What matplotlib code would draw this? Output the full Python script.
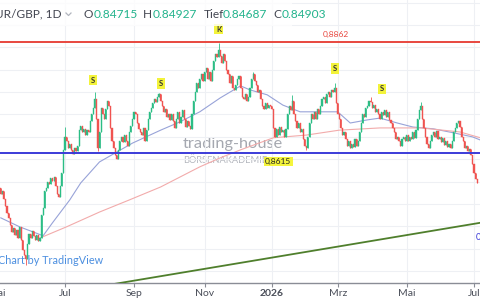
import numpy as np
import pandas as pd
import matplotlib
matplotlib.use("Agg")
import matplotlib.pyplot as plt
from matplotlib.lines import Line2D
from matplotlib.patches import Rectangle

plt.rcParams['font.family'] = ['Lato', 'DejaVu Sans']

# daily closes EUR/GBP (one value per trading day from 2025-05-05)
first_open = 0.8535
closes = [
    0.8522, 0.8530, 0.8512, 0.8495, 0.8480, 0.8468, 0.8452, 0.8438, 0.8447, 0.8430,
    0.8442, 0.8425, 0.8448, 0.8420, 0.8398, 0.8385, 0.8378, 0.8410, 0.8432, 0.8425,
    0.8440, 0.8428, 0.8420, 0.8430, 0.8418, 0.8425, 0.8475, 0.8490, 0.8530, 0.8535,
    0.8550, 0.8545, 0.8558, 0.8552, 0.8560, 0.8540, 0.8522, 0.8515, 0.8540, 0.8570,
    0.8620, 0.8650, 0.8640, 0.8625, 0.8635, 0.8620, 0.8612, 0.8625, 0.8618, 0.8630,
    0.8665, 0.8675, 0.8660, 0.8668, 0.8655, 0.8665, 0.8660, 0.8685, 0.8700, 0.8715,
    0.8735, 0.8690, 0.8625, 0.8660, 0.8715, 0.8700, 0.8690, 0.8712, 0.8730, 0.8720,
    0.8670, 0.8640, 0.8625, 0.8610, 0.8600, 0.8620, 0.8640, 0.8650, 0.8638, 0.8655,
    0.8640, 0.8630, 0.8660, 0.8675, 0.8690, 0.8705, 0.8700, 0.8680, 0.8668, 0.8660,
    0.8655, 0.8670, 0.8640, 0.8665, 0.8690, 0.8705, 0.8715, 0.8725, 0.8735, 0.8728,
    0.8740, 0.8745, 0.8730, 0.8720, 0.8705, 0.8712, 0.8695, 0.8702, 0.8688, 0.8700,
    0.8685, 0.8670, 0.8690, 0.8705, 0.8680, 0.8695, 0.8710, 0.8690, 0.8672, 0.8685,
    0.8675, 0.8668, 0.8700, 0.8730, 0.8750, 0.8770, 0.8760, 0.8780, 0.8790, 0.8775,
    0.8795, 0.8805, 0.8780, 0.8795, 0.8775, 0.8800, 0.8820, 0.8835, 0.8828, 0.8845,
    0.8830, 0.8815, 0.8835, 0.8820, 0.8800, 0.8790, 0.8770, 0.8785, 0.8760, 0.8755,
    0.8765, 0.8780, 0.8785, 0.8760, 0.8740, 0.8735, 0.8745, 0.8730, 0.8738, 0.8760,
    0.8780, 0.8790, 0.8775, 0.8765, 0.8750, 0.8755, 0.8735, 0.8720, 0.8712, 0.8725,
    0.8715, 0.8722, 0.8718, 0.8712, 0.8670, 0.8650, 0.8668, 0.8655, 0.8672, 0.8660,
    0.8665, 0.8650, 0.8668, 0.8700, 0.8720, 0.8710, 0.8730, 0.8700, 0.8685, 0.8670,
    0.8680, 0.8660, 0.8668, 0.8645, 0.8630, 0.8625, 0.8650, 0.8680, 0.8700, 0.8690,
    0.8705, 0.8690, 0.8712, 0.8700, 0.8720, 0.8735, 0.8740, 0.8725, 0.8745, 0.8750,
    0.8740, 0.8755, 0.8750, 0.8760, 0.8725, 0.8700, 0.8690, 0.8670, 0.8655, 0.8660,
    0.8645, 0.8630, 0.8640, 0.8625, 0.8635, 0.8628, 0.8645, 0.8630, 0.8640, 0.8660,
    0.8680, 0.8700, 0.8695, 0.8715, 0.8720, 0.8730, 0.8728, 0.8715, 0.8722, 0.8705,
    0.8712, 0.8700, 0.8690, 0.8705, 0.8698, 0.8710, 0.8695, 0.8705, 0.8688, 0.8680,
    0.8670, 0.8660, 0.8645, 0.8650, 0.8640, 0.8630, 0.8645, 0.8650, 0.8640, 0.8655,
    0.8640, 0.8650, 0.8645, 0.8660, 0.8648, 0.8665, 0.8690, 0.8710, 0.8720, 0.8690,
    0.8670, 0.8650, 0.8635, 0.8625, 0.8640, 0.8655, 0.8660, 0.8650, 0.8662, 0.8645,
    0.8650, 0.8638, 0.8648, 0.8632, 0.8640, 0.8628, 0.8635, 0.8625, 0.8640, 0.8660,
    0.8670, 0.8680, 0.8685, 0.8672, 0.8650, 0.8640, 0.8625, 0.8630, 0.8618, 0.8622,
    0.8610, 0.8590, 0.8570, 0.8555, 0.8548,
]
# notable wick extremes (candle number -> price)
wick_highs = {41: 0.8672, 60: 0.8750, 101: 0.8748, 139: 0.8860, 161: 0.8795,
              186: 0.8744, 213: 0.8770, 236: 0.8739, 268: 0.8728, 293: 0.8681}
wick_lows = {16: 0.8364, 62: 0.8618, 74: 0.8603, 195: 0.8620}

# moving averages, sampled (candle number, price)
ma_fast_idx = [0, 12, 21, 27, 33, 44, 51, 63, 73, 84, 102, 114, 127, 140, 153, 159,
               170, 180, 191, 204, 215, 223, 234, 242, 253, 263, 276, 289, 301, 306]
ma_fast = [0.8469, 0.8449, 0.8437, 0.8429, 0.8458, 0.8509, 0.8547, 0.8594, 0.8614,
           0.8636, 0.8665, 0.8683, 0.8706, 0.8737, 0.8764, 0.8755, 0.8744, 0.8721,
           0.8706, 0.8706, 0.8706, 0.8681, 0.8688, 0.8692, 0.8681, 0.8672, 0.8668,
           0.8659, 0.8650, 0.8643]
ma_slow_idx = [25, 42, 63, 82, 102, 127, 140, 153, 174, 195, 216, 242, 268, 293, 306]
ma_slow = [0.8424, 0.8449, 0.8482, 0.8509, 0.8538, 0.8583, 0.8603, 0.8621, 0.8648,
           0.8654, 0.8665, 0.8670, 0.8670, 0.8661, 0.8648]

resistance = 0.8862
support = 0.8615
trend_idx = [60, 306]
trend_price = [0.8314, 0.8458]

tick_months = ["2025-07-01", "2025-09-01", "2025-11-01", "2026-01-01",
               "2026-03-01", "2026-05-01", "2026-07-01"]
tick_labels = ["Jul", "Sep", "Nov", "2026", "Mrz", "Mai", "Jul"]

green = '#2bbd85'
red = '#f05350'

dates = pd.bdate_range("2025-05-05", periods=len(closes))
idx = np.arange(len(closes))
c = np.array(closes)
o = np.array([first_open] + closes[:-1])
body_hi = np.maximum(o, c)
body_lo = np.minimum(o, c)
hi = body_hi.copy()
lo = body_lo.copy()
for k, v in wick_highs.items():
    hi[k] = max(hi[k], v)
for k, v in wick_lows.items():
    lo[k] = min(lo[k], v)
cols = np.where(c >= o, green, red)

fig = plt.figure(figsize=(4.8, 3.0), dpi=100)
fig.patch.set_facecolor('white')
ax = fig.add_axes([0, 17 / 300, 1, 283 / 300])

def fx(px):
    return px / 480

def fy(py):
    return 1 - py / 300

# grid
ax.set_yticks(np.arange(0.835, 0.8951, 0.005))
tick_idx = [int(dates.searchsorted(pd.Timestamp(m))) for m in tick_months]
ax.set_xticks(tick_idx, tick_labels)
ax.grid(True, color='#eef0f4', lw=0.8, zorder=0)
ax.tick_params(axis='y', left=False, labelleft=False)
ax.tick_params(axis='x', length=3, color='#8a8d96', labelsize=7.5,
               labelcolor='#4a4e59', pad=1.5)
for lbl in ax.get_xticklabels():
    if lbl.get_text() == '2026':
        lbl.set_fontweight('bold')
for s in ['top', 'left', 'right']:
    ax.spines[s].set_visible(False)
ax.spines['bottom'].set_color('#8a8d96')
ax.spines['bottom'].set_linewidth(1.0)

# moving averages
ax.plot(ma_fast_idx, ma_fast, color='#98a3d8', lw=0.8, zorder=2)
ax.plot(ma_slow_idx, ma_slow, color='#f2abab', lw=0.8, zorder=2)

# candles
ax.vlines(idx, lo, hi, colors=cols, lw=0.6, zorder=3)
ax.bar(idx, body_hi - body_lo, bottom=body_lo, width=0.72, color=cols,
       edgecolor=cols, linewidth=0.3, zorder=3)

# levels
ax.axhline(resistance, color='#e8473f', lw=1.4, zorder=4)
ax.axhline(support, color='#3b3bd8', lw=1.4, zorder=4)
ax.plot(trend_idx, trend_price, color='#4f7f2c', lw=1.3, zorder=4)

ax.set_xlim(-0.5, 305.8)
ax.set_ylim(0.83234, 0.89559)

ax.text(214, 0.8878, '0,8862', color='#e8473f', fontsize=6, ha='center', va='center', zorder=5)
ax.text(177, 0.8595, '0,8615', color='#222222', fontsize=6, ha='center', va='center',
        bbox=dict(boxstyle='square,pad=0.15', fc='#f5f53c', ec='none'), zorder=5)
ax.text(303.3, 0.8426, '0,8460', color='#3b3bd8', fontsize=6.5, ha='left', va='center',
        clip_on=False, zorder=5)

for k, p, t in [(59, 0.8777, 'S'), (102, 0.8770, 'S'), (213, 0.8802, 'S'),
                (243, 0.8757, 'S'), (139, 0.8891, 'K')]:
    ax.text(k, p, t, fontsize=5.5, fontweight='bold', color='#333333', ha='center',
            va='center', bbox=dict(boxstyle='square,pad=0.25', fc='#f3f33a', ec='none'),
            zorder=6)

# watermark
ax.text(116.3, 0.8635, 'trading-house', color='#a5a8b0', fontsize=11.8, ha='left',
        va='center', zorder=1.5)
ax.text(116.3, 0.8598, 'BÖRSENAKADEMIE', color='#b3b6bd', fontsize=6.7, ha='left',
        va='center', zorder=1.5)

# header
fig.patches.append(Rectangle((0, fy(26)), fx(292), 26 / 300, transform=fig.transFigure,
                             fc='white', ec='none', alpha=0.8, zorder=5))
hy = fy(14.3)
fig.text(fx(62), hy, 'EUR/GBP, 1D', ha='right', va='center', fontsize=8.6,
         color='#434651', zorder=6)
fig.lines.append(Line2D([fx(66), fx(68.5), fx(71)], [fy(13), fy(15.5), fy(13)],
                        transform=fig.transFigure, color='#b2b5be', lw=0.9, zorder=6))
for px, txt, col in [(83, 'O', '#434651'), (94, '0.84715', '#22b38c'),
                     (143, 'H', '#434651'), (153, '0.84927', '#22b38c'),
                     (204, 'Tief', '#434651'), (223, '0.84687', '#22b38c'),
                     (273, 'C', '#434651'), (282, '0.84903', '#22b38c')]:
    fig.text(fx(px), hy, txt, ha='left', va='center', fontsize=8.6, color=col, zorder=6)

fig.text(fx(-3), fy(293), 'Mai', ha='center', va='center', fontsize=7.5, color='#4a4e59')
fig.text(fx(-2), fy(260), 'Chart by TradingView', ha='left', va='center', fontsize=7.8,
         color='#4c8fe0', zorder=6)

fig.savefig('out.png', dpi=100)
